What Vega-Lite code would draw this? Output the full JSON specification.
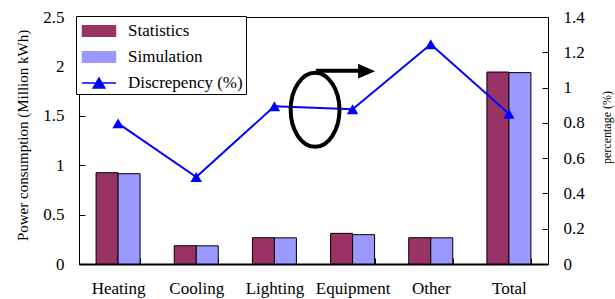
{
  "$schema": "https://vega.github.io/schema/vega-lite/v6.json",
  "width": 469,
  "height": 247,
  "autosize": {"type": "none"},
  "padding": {"left": 79, "top": 17, "right": 67, "bottom": 35},
  "background": "white",
  "datasets": {
    "bars": [
      {"category": "Heating", "series": "Statistics", "value": 0.924},
      {"category": "Heating", "series": "Simulation", "value": 0.914},
      {"category": "Cooling", "series": "Statistics", "value": 0.185},
      {"category": "Cooling", "series": "Simulation", "value": 0.184},
      {"category": "Lighting", "series": "Statistics", "value": 0.266},
      {"category": "Lighting", "series": "Simulation", "value": 0.265},
      {"category": "Equipment", "series": "Statistics", "value": 0.31},
      {"category": "Equipment", "series": "Simulation", "value": 0.297},
      {"category": "Other", "series": "Statistics", "value": 0.266},
      {"category": "Other", "series": "Simulation", "value": 0.265},
      {"category": "Total", "series": "Statistics", "value": 1.943},
      {"category": "Total", "series": "Simulation", "value": 1.937}
    ],
    "pct": [
      {"category": "Heating", "series": "Discrepency (%)", "pct": 0.797},
      {"category": "Cooling", "series": "Discrepency (%)", "pct": 0.493},
      {"category": "Lighting", "series": "Discrepency (%)", "pct": 0.894},
      {"category": "Equipment", "series": "Discrepency (%)", "pct": 0.877},
      {"category": "Other", "series": "Discrepency (%)", "pct": 1.245},
      {"category": "Total", "series": "Discrepency (%)", "pct": 0.852}
    ],
    "series": [
      {"series": "Statistics"},
      {"series": "Simulation"},
      {"series": "Discrepency (%)"}
    ],
    "ellipse": [{"x": 3.02, "y": 1.56}],
    "shaft": [{"x": 3.03, "x2": 3.6, "y": 1.955}],
    "head": [{"x": 3.68, "y": 1.952}]
  },
  "config": {
    "font": "'Liberation Serif', 'DejaVu Serif', serif",
    "view": {"stroke": "black", "strokeWidth": 1},
    "axis": {
      "labelFont": "'Liberation Serif', 'DejaVu Serif', serif",
      "labelFontSize": 17,
      "labelColor": "black",
      "titleFont": "'Liberation Serif', 'DejaVu Serif', serif",
      "titleFontWeight": "normal",
      "titleColor": "black",
      "domainColor": "black",
      "tickColor": "black",
      "grid": false
    },
    "legend": {
      "labelFont": "'Liberation Serif', 'DejaVu Serif', serif",
      "symbolOpacity": 1
    }
  },
  "layer": [
    {
      "layer": [
        {
          "data": {"name": "bars"},
          "mark": {"type": "bar", "stroke": "black", "strokeWidth": 1},
          "encoding": {
            "x": {
              "field": "category",
              "type": "nominal",
              "sort": ["Heating", "Cooling", "Lighting", "Equipment", "Other", "Total"],
              "scale": {"paddingInner": 0.437, "paddingOuter": 0.2185},
              "axis": {
                "title": null,
                "labelAngle": 0,
                "tickBand": "extent",
                "tickSize": -6,
                "labelPadding": 22,
                "domainWidth": 2,
                "labelBaseline": "top"
              }
            },
            "xOffset": {
              "field": "series",
              "type": "nominal",
              "sort": ["Statistics", "Simulation"],
              "scale": {"paddingInner": 0, "paddingOuter": 0}
            },
            "y": {
              "field": "value",
              "type": "quantitative",
              "scale": {"domain": [0, 2.5], "nice": false},
              "axis": {
                "title": "Power consumption (Million kWh)",
                "titleFontSize": 15,
                "titlePadding": 12,
                "titleY": 118,
                "values": [0, 0.5, 1, 1.5, 2, 2.5],
                "format": "~g",
                "tickSize": -6,
                "labelPadding": 21
              }
            },
            "color": {
              "field": "series",
              "type": "nominal",
              "scale": {
                "domain": ["Statistics", "Simulation", "Discrepency (%)"],
                "range": ["#993366", "#9999FF", "#0000FF"]
              }
            }
          }
        },
        {
          "data": {"name": "pct"},
          "mark": {
            "type": "line",
            "strokeWidth": 2,
            "point": {"shape": "triangle-up", "size": 132, "filled": true, "opacity": 1}
          },
          "encoding": {
            "x": {
              "field": "category",
              "type": "nominal",
              "sort": ["Heating", "Cooling", "Lighting", "Equipment", "Other", "Total"]
            },
            "y": {
              "field": "pct",
              "type": "quantitative",
              "scale": {"domain": [0, 1.4], "nice": false},
              "axis": {
                "orient": "right",
                "title": "percentage (%)",
                "titleFontSize": 12,
                "titleAngle": 270,
                "titleBaseline": "top",
                "titlePadding": 17,
                "titleY": 110,
                "values": [0, 0.2, 0.4, 0.6, 0.8, 1, 1.2, 1.4],
                "format": "~g",
                "tickSize": -6,
                "labelPadding": 21
              }
            },
            "color": {"field": "series", "type": "nominal"}
          }
        }
      ],
      "resolve": {"scale": {"y": "independent"}}
    },
    {
      "layer": [
        {
          "data": {"name": "ellipse"},
          "mark": {
            "type": "point",
            "shape": "M0,-1C0.36,-1 0.66,-0.552 0.66,0C0.66,0.552 0.36,1 0,1C-0.36,1 -0.66,0.552 -0.66,0C-0.66,-0.552 -0.36,-1 0,-1Z",
            "filled": false,
            "stroke": "black",
            "strokeWidth": 4,
            "size": 5476,
            "opacity": 1
          },
          "encoding": {
            "x": {"field": "x", "type": "quantitative", "scale": {"domain": [0, 6], "nice": false}, "axis": null},
            "y": {"field": "y", "type": "quantitative", "scale": {"domain": [0, 2.5], "nice": false}, "axis": null}
          }
        },
        {
          "data": {"name": "shaft"},
          "mark": {"type": "rule", "stroke": "black", "strokeWidth": 4},
          "encoding": {
            "x": {"field": "x", "type": "quantitative"},
            "x2": {"field": "x2"},
            "y": {"field": "y", "type": "quantitative"}
          }
        },
        {
          "data": {"name": "head"},
          "mark": {
            "type": "point",
            "shape": "M-1,-0.88L1,0L-1,0.88Z",
            "filled": true,
            "fill": "black",
            "size": 289,
            "opacity": 1
          },
          "encoding": {
            "x": {"field": "x", "type": "quantitative"},
            "y": {"field": "y", "type": "quantitative"}
          }
        }
      ]
    },
    {
      "data": {"name": "series"},
      "mark": {"type": "point", "filled": true, "opacity": 0},
      "encoding": {
        "color": {
          "field": "series",
          "type": "nominal",
          "scale": {
            "domain": ["Statistics", "Simulation", "Discrepency (%)"],
            "range": ["#993366", "#9999FF", "#0000FF"]
          },
          "legend": {
            "orient": "none",
            "legendX": -3,
            "legendY": -1,
            "title": null,
            "fillColor": "white",
            "strokeColor": "black",
            "padding": 3,
            "labelFontSize": 17,
            "labelColor": "black",
            "symbolSize": 484,
            "symbolStrokeWidth": 1.5,
            "symbolOpacity": 1,
            "rowPadding": 5,
            "labelOffset": 17,
            "symbolOffset": 8
          }
        },
        "shape": {
          "field": "series",
          "type": "nominal",
          "scale": {
            "domain": ["Statistics", "Simulation", "Discrepency (%)"],
            "range": ["M-1.5,-0.48H1.5V0.48H-1.5Z", "M-1.5,-0.48H1.5V0.48H-1.5Z", "M-1.55,0H1.55M0,-0.45L0.53,0.45H-0.53Z"]
          },
          "legend": {
            "orient": "none",
            "legendX": -3,
            "legendY": -1,
            "title": null,
            "fillColor": "white",
            "strokeColor": "black",
            "padding": 3,
            "labelFontSize": 17,
            "labelColor": "black",
            "symbolSize": 484,
            "symbolStrokeWidth": 1.5,
            "symbolOpacity": 1,
            "rowPadding": 5,
            "labelOffset": 17,
            "symbolOffset": 8
          }
        },
        "stroke": {
          "field": "series",
          "type": "nominal",
          "scale": {
            "domain": ["Statistics", "Simulation", "Discrepency (%)"],
            "range": ["black", "black", "#0000FF"]
          },
          "legend": {
            "orient": "none",
            "legendX": -3,
            "legendY": -1,
            "title": null,
            "fillColor": "white",
            "strokeColor": "black",
            "padding": 3,
            "labelFontSize": 17,
            "labelColor": "black",
            "symbolSize": 484,
            "symbolStrokeWidth": 1.5,
            "symbolOpacity": 1,
            "rowPadding": 5,
            "labelOffset": 17,
            "symbolOffset": 8
          }
        }
      }
    }
  ],
  "resolve": {"scale": {"x": "independent", "y": "independent"}}
}
